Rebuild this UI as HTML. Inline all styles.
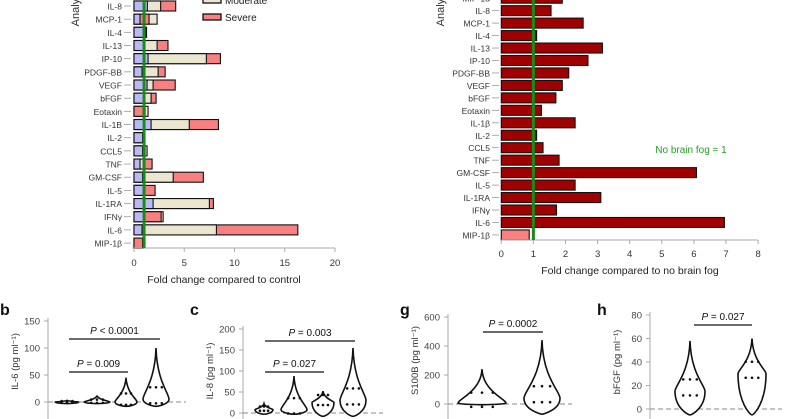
<!DOCTYPE html>
<html><head><meta charset="utf-8"><style>
html,body{margin:0;padding:0;background:#fff}
svg{display:block;font-family:"Liberation Sans",sans-serif}
</style></head><body>
<svg id="fig" width="800" height="419" viewBox="0 0 800 419"></svg>
<script>
// ---- Panel A (fold change vs control, per severity)
const analytesA = ["IL-8","MCP-1","IL-4","IL-13","IP-10","PDGF-BB","VEGF","bFGF","Eotaxin","IL-1B","IL-2","CCL5","TNF","GM-CSF","IL-5","IL-1RA","IFNγ","IL-6","MIP-1β"];
const mildA = [1.33,0.6,0.9,1.0,1.4,0.8,1.3,1.0,1.1,1.7,0.85,0.85,0.6,0.85,0.9,1.9,1.0,0.8,0.9];
const moderateA = [2.65,2.3,1.25,2.3,7.2,2.4,1.9,1.7,1.4,5.5,0.9,1.3,0.9,3.9,1.0,7.5,2.9,8.2,0.95];
const severeA = [4.15,1.5,1.2,3.38,8.6,3.1,4.1,2.2,0.9,8.4,0.9,1.1,1.8,6.9,2.1,7.9,2.7,16.3,0.85];
const ticksA = [0,5,10,15,20];
// ---- Panel B (fold change vs no brain fog)
const analytesB = ["MIP-1α","IL-8","MCP-1","IL-4","IL-13","IP-10","PDGF-BB","VEGF","bFGF","Eotaxin","IL-1β","IL-2","CCL5","TNF","GM-CSF","IL-5","IL-1RA","IFNγ","IL-6","MIP-1β"];
const foldB = [1.9,1.55,2.55,1.1,3.15,2.7,2.1,1.9,1.7,1.25,2.3,1.1,1.3,1.8,6.08,2.3,3.1,1.72,6.95,0.87];
const ticksB = [0,1,2,3,4,5,6,7,8];
// ---- Violin panels: maxima, modes (widest value), minima
const violinBmax = [3,12,45,100], violinBmode=[0,0,0,5], violinBmin=[-3,-3,-8,-8];
const violinCmax = [22,88,52,155], violinCmode=[8,8,25,30], violinCmin=[-3,-3,-8,-8];
const violinGmax = [240,440], violinGmode=[5,40], violinGmin=[-5,-70];
const violinHmax = [58,60], violinHmode=[15,30], violinHmin=[-5,-5];
const ticksBv=[0,50,100,150], ticksCv=[0,50,100,150,200], ticksGv=[0,200,400,600], ticksHv=[0,20,40,60,80];

const svg=document.getElementById('fig');const NS='http://www.w3.org/2000/svg';
function el(t,a,txt){const e=document.createElementNS(NS,t);for(const k in a)e.setAttribute(k,a[k]);if(txt!==undefined)e.textContent=txt;svg.appendChild(e);return e;}

// Panel A
const xA=v=>134+v*10.05, yA=i=>6+i*13.17;
let e=el('text',{x:79,y:8,'font-size':11,fill:'#333',transform:'rotate(-90 79 8)','text-anchor':'middle'},'Analyte');

analytesA.forEach((n,i)=>{
  const y=yA(i);
  let t=el('text',{x:122,y:y+3.5,'font-size':8.5,fill:'#333','text-anchor':'end'},n);
  
  el('line',{x1:124,x2:131,y1:y,y2:y,stroke:'#999','stroke-width':0.8});
  const segs=[[mildA[i],'#b9b9f5','mild'],[moderateA[i],'#ebe6cf','moderate'],[severeA[i],'#f88080','severe']].sort((a,b)=>b[0]-a[0]);
  segs.forEach(s=>{let r=el('rect',{x:xA(0),y:y-5,width:xA(s[0])-xA(0),height:10,fill:s[1],stroke:'#111','stroke-width':1.1});
    });
});
el('line',{x1:132,x2:335,y1:248,y2:248,stroke:'#aaa','stroke-width':1});
ticksA.forEach(v=>{el('line',{x1:xA(v),x2:xA(v),y1:248,y2:252,stroke:'#aaa'});
  let t=el('text',{x:xA(v),y:266,'font-size':9.5,fill:'#333','text-anchor':'middle'},v);
  });
el('line',{x1:xA(1),x2:xA(1),y1:0,y2:248,stroke:'#1a8a1a','stroke-width':3});
e=el('text',{x:224,y:283,'font-size':10.5,fill:'#222','text-anchor':'middle'},'Fold change compared to control');

el('rect',{x:203,y:-3,width:18,height:6,fill:'#ebe6cf',stroke:'#111','stroke-width':1.3});
e=el('text',{x:225,y:4,'font-size':10,fill:'#222'},'Moderate');
el('rect',{x:203,y:14,width:18,height:6,fill:'#f88080',stroke:'#111','stroke-width':1.3});
e=el('text',{x:225,y:21,'font-size':10,fill:'#222'},'Severe');

// Panel B
const xB=v=>501.3+v*32.1, yB=i=>-1.8+i*12.46;
e=el('text',{x:444,y:8,'font-size':11,fill:'#333',transform:'rotate(-90 444 8)','text-anchor':'middle'},'Analyte');

analytesB.forEach((n,i)=>{
  const y=yB(i);
  let t=el('text',{x:490,y:y+3.5,'font-size':8.5,fill:'#333','text-anchor':'end'},n);
  
  el('line',{x1:492,x2:499,y1:y,y2:y,stroke:'#999','stroke-width':0.8});
  let r=el('rect',{x:xB(0),y:y-5,width:xB(foldB[i])-xB(0),height:10,fill:foldB[i]<1?'#f88080':'#a00000',stroke:'#111','stroke-width':1.1});
  
});
el('line',{x1:500,x2:758,y1:240,y2:240,stroke:'#aaa','stroke-width':1});
ticksB.forEach(v=>{el('line',{x1:xB(v),x2:xB(v),y1:240,y2:244,stroke:'#aaa'});
  let t=el('text',{x:xB(v),y:257,'font-size':9.5,fill:'#333','text-anchor':'middle'},v);
  });
el('line',{x1:xB(1),x2:xB(1),y1:0,y2:240,stroke:'#1a8a1a','stroke-width':3});
e=el('text',{x:691,y:153,'font-size':10,fill:'#2a9a2a','text-anchor':'middle'},'No brain fog = 1');
e=el('text',{x:630,y:274,'font-size':10.5,fill:'#222','text-anchor':'middle'},'Fold change compared to no brain fog');


// Violin panels
function panel(letter,lx,ax,ylab,ticks,y0,y1,maxs,modes,mins,xs,hw,pbars){
  let t=el('text',{x:lx,y:315,'font-size':16,'font-weight':'bold',fill:'#111'},letter);
  
  const tmax=ticks[ticks.length-1], ys=v=>y0-(v/tmax)*(y0-y1);
  el('line',{x1:ax,x2:ax,y1:y1-3,y2:419,stroke:'#aaa'});
  ticks.forEach(v=>{el('line',{x1:ax-4,x2:ax,y1:ys(v),y2:ys(v),stroke:'#aaa'});
    let tt=el('text',{x:ax-8,y:ys(v)+3.5,'font-size':9.5,fill:'#444','text-anchor':'end'},v);
    });
  let yl=el('text',{x:ax-30,y:(y0+y1)/2,'font-size':9.5,fill:'#333','text-anchor':'middle',transform:`rotate(-90 ${ax-30} ${(y0+y1)/2})`},ylab);
  
  el('line',{x1:ax,x2:xs[xs.length-1]+30,y1:ys(0),y2:ys(0),stroke:'#888','stroke-dasharray':'5,3'});
  maxs.forEach((m,i)=>{const x=xs[i],top=ys(m),b=ys(mins[i]),ym=Math.min(ys(modes[i]),b-1.5),w=hw[i];
    const d=`M${x},${top} C${x+1},${ym-(ym-top)*0.35} ${x+w},${ym-(ym-top)*0.12} ${x+w},${ym} C${x+w},${ym+(b-ym)*0.7} ${x+2},${b} ${x},${b} C${x-2},${b} ${x-w},${ym+(b-ym)*0.7} ${x-w},${ym} C${x-w},${ym-(ym-top)*0.12} ${x-1},${ym-(ym-top)*0.35} ${x},${top}Z`;
    let p=el('path',{d:d,fill:'#fff',stroke:'#111','stroke-width':1.6});
    
    for(let k=0;k<6;k++){el('circle',{cx:x+((k%3)-1)*w*0.45,cy:ys(modes[i])+ (k<3?1:-3)*Math.min(4,(b-top)/10),r:1.3,fill:'#111'});}
  });
  pbars.forEach(pb=>{el('line',{x1:pb[0],x2:pb[1],y1:pb[2],y2:pb[2],stroke:'#111','stroke-width':1.3});
    let tt=el('text',{x:(pb[0]+pb[1])/2,y:pb[2]-5,'font-size':10,fill:'#111','text-anchor':'middle'});
    
    const i1=document.createElementNS(NS,'tspan');i1.setAttribute('font-style','italic');i1.textContent='P';tt.appendChild(i1);
    tt.appendChild(document.createTextNode(pb[3]));});
}
panel('b',0,48,'IL-6 (pg ml⁻¹)',ticksBv,402,321,violinBmax,violinBmode,violinBmin,[67,97,126,156],[12,13,11,13],[[69,160,339,' < 0.0001'],[69,128,372,' = 0.009']]);
panel('c',190,243,'IL-8 (pg ml⁻¹)',ticksCv,413,329,violinCmax,violinCmode,violinCmin,[264,294,323,353],[9,13,11,13],[[265,355,341,' = 0.003'],[265,324,372,' = 0.027']]);
panel('g',400,448,'S100B (pg ml⁻¹)',ticksGv,404,317,violinGmax,violinGmode,violinGmin,[482,542],[24,18],[[483,543,332,' = 0.0002']]);
panel('h',597,650,'bFGF (pg ml⁻¹)',ticksHv,409,315,violinHmax,violinHmode,violinHmin,[690,752],[15,14],[[694,752,325,' = 0.027']]);
</script>
</body></html>
